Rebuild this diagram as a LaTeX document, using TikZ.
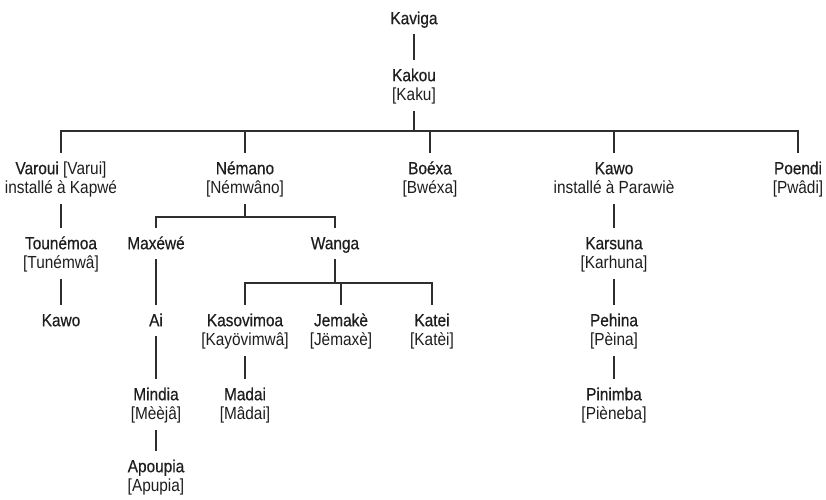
\documentclass[tikz,border=0pt]{standalone}
\usepackage{fontspec}
\setmainfont[FakeStretch=0.88]{Liberation Sans}
\newfontfamily\nmfont[FakeStretch=0.88,FakeBold=0.5]{Liberation Sans}
\definecolor{ink}{HTML}{1E1E1E}
\definecolor{wire}{HTML}{2E2E2E}
\newcommand\nmA[1]{\rule{0pt}{21pt}{\nmfont #1}}
\newcommand\lnB{\rule[-10pt]{0pt}{10pt}}
\tikzset{
  person/.style={anchor=north, inner sep=0pt, align=center,
    font=\fontsize{17.5}{19.5}\selectfont, text=ink},
  link/.style={draw=wire, line width=1.1pt}
}
\begin{document}
\begin{tikzpicture}[x=1pt,y=-1pt]
\fill[white] (0,0) rectangle (826,499);
\useasboundingbox (0,0) rectangle (826,499);
% level 0-1
\node[person] (kaviga) at (414,3) {\nmA{Kaviga}\lnB};
\node[person] (kakou) at (414,60) {\nmA{Kakou}\\{[Kaku]}\lnB};
% level 2
\node[person] (varoui) at (61,153) {\nmA{Varoui} [Varui]\\installé à Kapwé\lnB};
\node[person] (nemano) at (245,153) {\nmA{Némano}\\{[Némwâno]}\lnB};
\node[person] (boexa) at (430,153) {\nmA{Boéxa}\\{[Bwéxa]}\lnB};
\node[person] (kawo) at (614,153) {\nmA{Kawo}\\installé à Parawiè\lnB};
\node[person] (poendi) at (798,153) {\nmA{Poendi}\\{[Pwâdi]}\lnB};
% level 3
\node[person] (tounemoa) at (61,228) {\nmA{Tounémoa}\\{[Tunémwâ]}\lnB};
\node[person] (maxewe) at (156,228) {\nmA{Maxéwé}\lnB};
\node[person] (wanga) at (335,228) {\nmA{Wanga}\lnB};
\node[person] (karsuna) at (614,228) {\nmA{Karsuna}\\{[Karhuna]}\lnB};
% level 4
\node[person] (kawob) at (61,305) {\nmA{Kawo}\lnB};
\node[person] (ai) at (156,305) {\nmA{Ai}\lnB};
\node[person] (kasovimoa) at (245,305) {\nmA{Kasovimoa}\\{[Kayövimwâ]}\lnB};
\node[person] (jemake) at (341,305) {\nmA{Jemakè}\\{[Jëmaxè]}\lnB};
\node[person] (katei) at (432,305) {\nmA{Katei}\\{[Katèi]}\lnB};
\node[person] (pehina) at (614,305) {\nmA{Pehina}\\{[Pèina]}\lnB};
% level 5
\node[person] (mindia) at (156,379) {\nmA{Mindia}\\{[Mèèjâ]}\lnB};
\node[person] (madai) at (245,379) {\nmA{Madai}\\{[Mâdai]}\lnB};
\node[person] (pinimba) at (614,379) {\nmA{Pinimba}\\{[Pièneba]}\lnB};
% level 6
\node[person] (apoupia) at (156,451) {\nmA{Apoupia}\\{[Apupia]}\lnB};
% bars
\coordinate (barA) at (414,131);
\coordinate (barB) at (245,217);
\coordinate (barC) at (335,283);
% connectors
\draw[link] (kaviga.south) -- (kakou.north);
\draw[link] (kakou.south) -- (kakou.south |- barA);
\draw[link] (varoui.north) -- (varoui.north |- barA) -- (poendi.north |- barA) -- (poendi.north);
\foreach \n in {nemano,boexa,kawo} \draw[link] (\n.north) -- (\n.north |- barA);
\draw[link] (nemano.south) -- (nemano.south |- barB);
\draw[link] (maxewe.north) -- (maxewe.north |- barB) -- (wanga.north |- barB) -- (wanga.north);
\draw[link] (wanga.south) -- (wanga.south |- barC);
\draw[link] (kasovimoa.north) -- (kasovimoa.north |- barC) -- (katei.north |- barC) -- (katei.north);
\draw[link] (jemake.north) -- (jemake.north |- barC);
\draw[link] (varoui.south) -- (tounemoa.north);
\draw[link] (tounemoa.south) -- (kawob.north);
\draw[link] (maxewe.south) -- (ai.north);
\draw[link] (ai.south) -- (mindia.north);
\draw[link] (mindia.south) -- (apoupia.north);
\draw[link] (kasovimoa.south) -- (madai.north);
\draw[link] (kawo.south) -- (karsuna.north);
\draw[link] (karsuna.south) -- (pehina.north);
\draw[link] (pehina.south) -- (pinimba.north);
\end{tikzpicture}
\end{document}
